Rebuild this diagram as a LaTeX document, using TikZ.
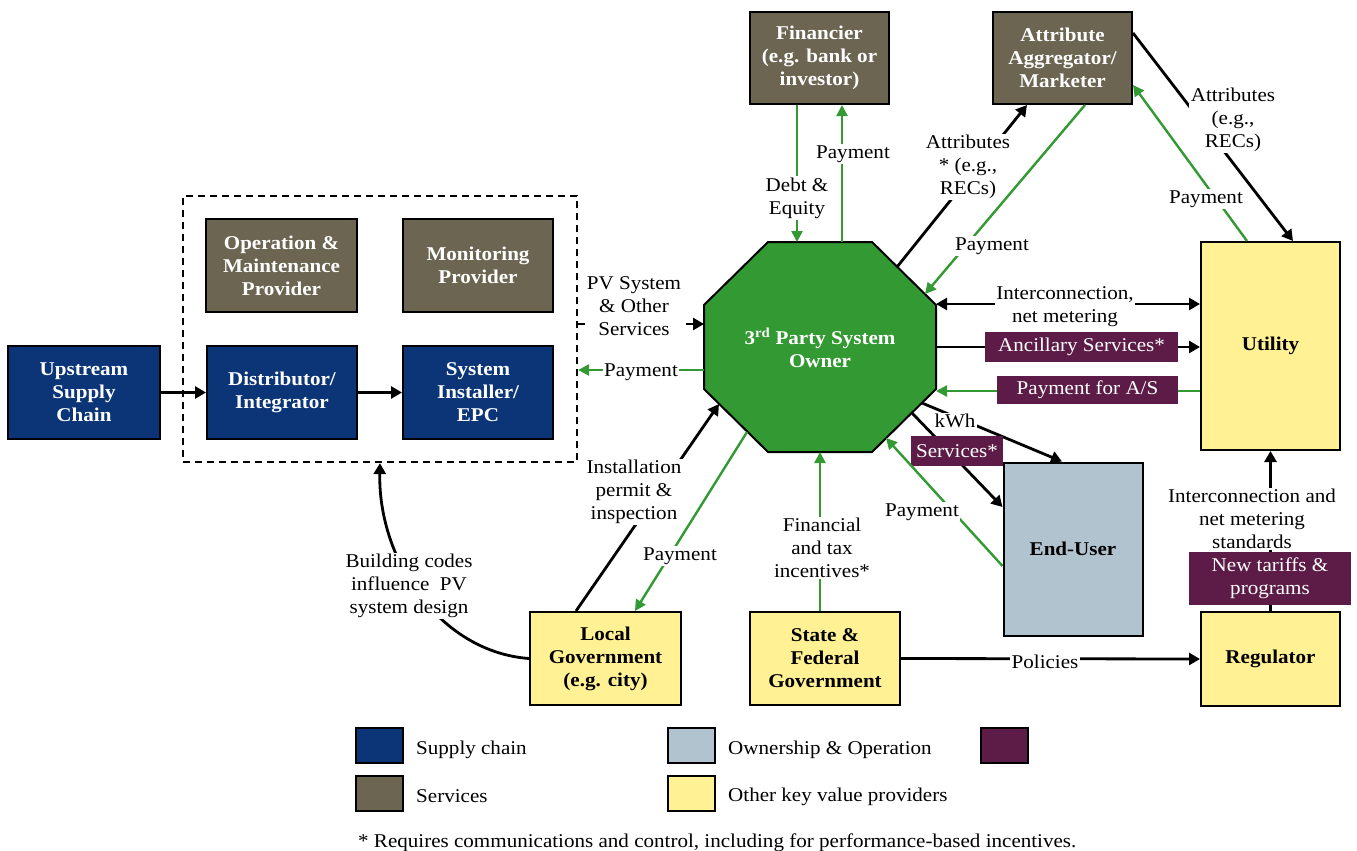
\documentclass[tikz,border=0pt]{standalone}
\usepackage{fontspec}
\setmainfont[FakeStretch=1.08]{Liberation Serif}
\usetikzlibrary{arrows.meta}
\definecolor{cblue}{HTML}{0B3577}
\definecolor{cbrown}{HTML}{6B6552}
\definecolor{cgreen}{HTML}{339933}
\definecolor{cyellow}{HTML}{FFF194}
\definecolor{cgray}{HTML}{B1C3CF}
\definecolor{cpurple}{HTML}{5C1C47}
\newcommand{\myfs}{\fontsize{19.5}{23}\selectfont}
\tikzset{
  box/.style={draw=black, line width=2pt, align=center, font=\myfs\bfseries, inner sep=2pt},
  supply/.style={box, fill=cblue, text=white, minimum width=150pt, minimum height=93pt},
  service/.style={box, fill=cbrown, text=white},
  other/.style={box, fill=cyellow, text=black},
  ownbox/.style={box, fill=cgray, text=black},
  tag/.style={fill=cpurple, text=white, align=center, inner sep=0pt},
  lbl/.style={fill=white, align=center, inner sep=1.5pt, yshift=-2pt},
  legt/.style={anchor=west, inner sep=0pt, yshift=-2.5pt},
  blk/.style={draw=black, line width=2.8pt, -{Triangle[length=11pt,width=12pt]}},
  grn/.style={draw=cgreen, line width=2.4pt, -{Triangle[length=11pt,width=11pt]}},
  leg/.style={draw=black, line width=1.8pt, minimum width=47pt, minimum height=35pt, inner sep=0pt},
}
\begin{document}
\begin{tikzpicture}[x=1pt,y=-1pt,font=\myfs]
\useasboundingbox (0,0) rectangle (1357,851);

% supply chain
\node[supply, minimum width=152pt] (ups) at (84,392.5) {Upstream\\Supply\\Chain};
\node[draw=black, line width=2.2pt, dash pattern=on 7pt off 5pt, minimum width=394pt, minimum height=266pt, inner sep=0pt] (grp) at (380,329) {};
\node[service, minimum width=151pt, minimum height=93pt] (om) at (281.5,265.5) {Operation \&\\Maintenance\\Provider};
\node[service, minimum width=150pt, minimum height=93pt] (mon) at (478,265.5) {Monitoring\\Provider};
\node[supply] (dist) at (282,392.5) {Distributor/\\Integrator};
\node[supply] (inst) at (478,392.5) {System\\Installer/\\EPC};

% services top
\node[service, minimum width=139pt, minimum height=92pt] (fin) at (819.5,58) {Financier\\(e.g. bank or\\investor)};
\node[service, minimum width=139pt, minimum height=92pt] (agg) at (1062.5,58) {Attribute\\Aggregator/\\Marketer};

% others
\node[other, minimum width=139pt, minimum height=208pt] (util) at (1270.5,346) {Utility};
\node[ownbox, minimum width=139pt, minimum height=173pt] (eu) at (1073,549) {End-User};
\node[other, minimum width=139pt, minimum height=94pt] (reg) at (1270.5,659) {Regulator};
\node[other, minimum width=151pt, minimum height=93pt] (loc) at (605.5,658.5) {Local\\Government\\(e.g. city)};
\node[other, minimum width=150pt, minimum height=93pt] (sf) at (825,658.5) {State \&\\Federal\\Government};

% octagon
\filldraw[fill=cgreen, draw=black, line width=2pt] (768,242) -- (872,242) -- (936,305) -- (936,389) -- (872,452) -- (768,452) -- (704,389) -- (704,305) -- cycle;
\node[text=white, font=\myfs\bfseries, align=center, yshift=-1pt] (owner) at (820,347) {3\textsuperscript{rd} Party System\\Owner};

\coordinate (o-pv) at (704,324);
\coordinate (o-pay) at (704,370);
\coordinate (o-de) at (797,242);
\coordinate (o-fp) at (842,242);
\coordinate (o-at) at (897,267);
\coordinate (o-ap) at (925,294);
\coordinate (o-ic) at (936,304);
\coordinate (o-an) at (936,347);
\coordinate (o-as) at (936,391);
\coordinate (o-kw) at (922,403);
\coordinate (o-sv) at (912,413);
\coordinate (o-ep) at (886,438);
\coordinate (o-fi) at (820,452);
\coordinate (o-ip) at (719,404);
\coordinate (o-lp) at (747,432);

% supply chain arrows
\draw[blk] (ups) -- (dist);
\draw[blk] (dist) -- (inst);

% PV system & payment
\draw[blk, dash pattern=on 7pt off 5pt] (grp.east |- o-pv) -- (o-pv);
\node[lbl] at (634,304) {PV System\\\& Other\\Services};
\draw[grn] (o-pay) -- (grp.east |- o-pay);
\node[lbl] at (641,370) {Payment};

% financier
\draw[grn] (fin.south -| o-de) -- (o-de);
\node[lbl] at (797,196) {Debt \&\\Equity};
\draw[grn] (o-fp) -- (fin.south -| o-fp);
\node[lbl] at (853,152) {Payment};

% aggregator
\draw[blk] (o-at) -- (agg.south -| 1027,0);
\node[lbl] at (968,165) {Attributes\\* (e.g.,\\RECs)};
\draw[grn] (agg.south -| 1085,0) -- (o-ap);
\node[lbl] at (992,244) {Payment};
\draw[blk] (agg.east |- 0,33) -- (util.north -| 1293,0);
\node[lbl] at (1233,118) {Attributes\\(e.g.,\\RECs)};
\draw[grn] (util.north -| 1247,0) -- (agg.east |- 0,85);
\node[lbl] at (1206,197) {Payment};

% utility
\draw[blk, {Triangle[length=11pt,width=12pt]}-{Triangle[length=11pt,width=12pt]}] (o-ic) -- (util.west |- o-ic);
\node[lbl] at (1065,304.5) {Interconnection,\\net metering};
\draw[blk] (o-an) -- (util.west |- o-an);
\node[tag, minimum width=193pt, minimum height=30pt] (anc) at (1081.5,347) {Ancillary Services*};
\draw[grn] (util.west |- o-as) -- (o-as);
\node[tag, minimum width=181pt, minimum height=28pt] (pas) at (1087.5,390) {Payment for A/S};

% end user
\draw[blk] (o-kw) -- (eu.north -| 1062,0);
\node[lbl] at (955,419) {kWh};
\draw[blk] (o-sv) -- (eu.west |- 0,507);
\node[tag, minimum width=92pt, minimum height=30pt] (svc) at (957,451) {Services*};
\draw[grn] (eu.west |- 0,566) -- (o-ep);
\node[lbl] at (922,510) {Payment};

% state & federal
\draw[grn] (sf.north -| o-fi) -- (o-fi);
\node[lbl] at (822,546) {Financial\\and tax\\incentives*};
\draw[blk] (sf.east) -- (reg.west);
\node[lbl] at (1045,660) {Policies};

% local
\draw[blk] (loc.north -| 576,0) -- (o-ip);
\node[lbl] at (634,490) {Installation\\permit \&\\inspection};
\draw[grn] (o-lp) -- (loc.north -| 635,0);
\node[lbl] at (680,554) {Payment};
\draw[blk] (loc.west) .. controls (440,652) and (378,560) .. (grp.south);
\node[lbl] at (409,584) {Building codes\\influence~~PV\\system design};

% regulator
\draw[blk] (reg.north) -- (util.south);
\node[lbl] at (1252,517) {Interconnection and\\net metering\\standards};
\node[tag, minimum width=162pt, minimum height=53pt] (tar) at (1270,578.5) {New tariffs \&\\programs};

% legend
\node[leg, fill=cblue] (l1) at (379.5,745.5) {};
\node[legt] at (416,747) {Supply chain};
\node[leg, fill=cbrown] (l2) at (379.5,793.5) {};
\node[legt] at (416,794) {Services};
\node[leg, fill=cgray] (l3) at (691.5,745.5) {};
\node[legt] at (728,747) {Ownership \& Operation};
\node[leg, fill=cyellow] (l4) at (691.5,793.5) {};
\node[legt] at (728,794) {Other key value providers};
\node[leg, fill=cpurple] (l5) at (1004.5,745.5) {};
\node[legt] at (358,840) {* Requires communications and control, including for performance-based incentives.};
\end{tikzpicture}
\end{document}
